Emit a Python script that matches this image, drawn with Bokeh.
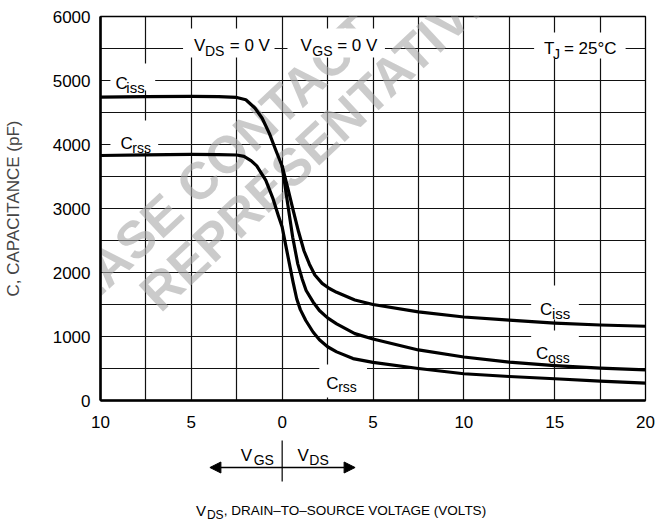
import numpy as np
from bokeh.plotting import figure
from bokeh.layouts import column
from bokeh.models import (Label, BoxAnnotation, FixedTicker, CustomJSTickFormatter,
                          Arrow, NormalHead, Range1d)
from bokeh.embed import file_html
from bokeh.resources import INLINE

# ---------------- data (V: negative = VGS side, positive = VDS side) ----------------
ciss_v = [-10, -7.5, -5, -3.5, -2.5, -2.0, -1.5, -1.1, -0.7, -0.35, 0, 0.3, 0.6, 0.9, 1.2,
          1.5, 1.8, 2.2, 2.6, 3.0, 4.0, 5.0, 7.5, 10, 12.5, 15, 17.5, 20]
ciss_c = [4740, 4748, 4752, 4748, 4735, 4700, 4570, 4410, 4170, 3910, 3660, 3330, 2980, 2640, 2340,
          2130, 1960, 1830, 1750, 1690, 1570, 1500, 1385, 1305, 1255, 1210, 1180, 1160]

crss_v = [-10, -7.5, -5, -3.5, -2.5, -2.1, -1.7, -1.4, -0.9, -0.5, -0.2, 0, 0.2, 0.4, 0.6, 0.8,
          1.0, 1.3, 1.7, 2.05, 2.5, 3.0, 3.9, 5.0, 7.5, 10, 12.5, 15, 17.5, 20]
crss_c = [3828, 3838, 3845, 3842, 3836, 3815, 3745, 3665, 3440, 3150, 2880, 2710, 2420, 2135, 1850, 1590,
          1420, 1250, 1070, 950, 840, 760, 655, 595, 500, 418, 375, 340, 302, 272]

coss_v = [0, 0.3, 0.58, 0.86, 1.1, 1.32, 1.7, 2.05, 2.5, 3.0, 4.0, 5.0, 7.5, 10, 12.5, 15, 17.5, 20]
coss_c = [3660, 3080, 2550, 2135, 1900, 1719, 1540, 1406, 1290, 1198, 1045, 960, 790, 680, 600, 545, 505, 480]

x_tick_values = [-10, -5, 0, 5, 10, 15, 20]
y_tick_values = [0, 1000, 2000, 3000, 4000, 5000, 6000]
x_grid_values = [-10, -7.5, -5, -2.5, 0, 2.5, 5, 7.5, 10, 12.5, 15, 17.5, 20]
y_grid_values = [0, 500, 1000, 1500, 2000, 2500, 3000, 3500, 4000, 4500, 5000, 5500, 6000]

FONT = "Liberation Sans"

# ---------------- main figure ----------------
p = figure(width=657, height=432, x_range=(-10, 20), y_range=(0, 6000),
           output_backend="svg", toolbar_location=None,
           min_border_left=97, min_border_right=12, min_border_top=16, min_border_bottom=32)
p.background_fill_color = "white"
p.border_fill_color = "white"
p.outline_line_color = "black"
p.outline_line_width = 1.3

p.xaxis.ticker = FixedTicker(ticks=x_tick_values)
p.yaxis.ticker = FixedTicker(ticks=y_tick_values)
p.xaxis.formatter = CustomJSTickFormatter(code="return String(Math.abs(tick))")
p.xgrid.ticker = FixedTicker(ticks=x_grid_values)
p.ygrid.ticker = FixedTicker(ticks=y_grid_values)
for g in (p.xgrid, p.ygrid):
    g.grid_line_color = "#111111"
    g.grid_line_width = 1.2

for ax in (p.xaxis, p.yaxis):
    ax.axis_line_width = 2.6
    ax.axis_line_color = "black"
    ax.major_tick_line_color = None
    ax.minor_tick_line_color = None
    ax.major_label_text_font = FONT
    ax.major_label_text_font_size = "17px"
    ax.major_label_text_color = "black"
p.xaxis.major_label_standoff = 9
p.yaxis.major_label_standoff = 4
p.yaxis.axis_label = "C, CAPACITANCE (pF)"
p.yaxis.axis_label_text_font = FONT
p.yaxis.axis_label_text_font_size = "17px"
p.yaxis.axis_label_text_font_style = "normal"
p.yaxis.axis_label_standoff = 27


def px2v(px):
    return -10 + (px - 97) / (548 / 30)


def py2c(py):
    return (400 - py) * (6000 / 384)


# ---------------- watermark ----------------
for txt, sx, sy in [("PLEASE CONTACT", 18, 345), ("REPRESENTATIVE", 145, 300)]:
    p.add_layout(Label(x=px2v(sx), y=py2c(sy), text=txt, angle=43, angle_units="deg",
                       text_font=FONT, text_font_style="bold", text_font_size="52px",
                       text_baseline="alphabetic",
                       text_color="#a8a8a8", text_alpha=0.6, level="underlay"))

# ---------------- curves ----------------
for xs, ys in [(ciss_v, ciss_c), (coss_v, coss_c), (crss_v, crss_c)]:
    p.line(xs, ys, line_color="black", line_width=3.2, line_join="round", line_cap="round")

# ---------------- white label boxes ----------------
boxes = [(180, 272, 28, 57), (285, 383, 28, 57), (533, 625, 32, 58),
         (107, 152, 63, 90), (107, 155, 120, 150),
         (530, 578, 285, 319), (530, 578, 330, 361), (317, 365, 364, 397)]
for l, r, t, b in boxes:
    p.add_layout(BoxAnnotation(left=px2v(l), right=px2v(r), top=py2c(t), bottom=py2c(b),
                               fill_color="white", fill_alpha=1.0, line_color=None))


def piece(fig, txt, x, y, size=17):
    fig.add_layout(Label(x=x, y=y, text=txt, text_font=FONT,
                         text_font_size=f"{size}px", text_baseline="alphabetic",
                         text_align="left", text_color="black"))


def mp(txt, sx, sy, size=17):
    piece(p, txt, px2v(sx), py2c(sy), size)


# V_DS = 0 V
mp("V", 191, 45); mp("DS", 202, 50, 14); mp("= 0 V", 227, 45)
# V_GS = 0 V
mp("V", 298, 45); mp("GS", 310, 50, 14); mp("= 0 V", 335, 45)
# T_J = 25°C
mp("T", 543, 48); mp("J", 552, 53, 14); mp("= 25°C", 563, 48)
# C labels
mp("C", 112, 83); mp("iss", 123, 87, 15)
mp("C", 117, 143); mp("rss", 129, 147, 14)
mp("C", 539, 309); mp("iss", 551, 313, 15)
mp("C", 535, 353); mp("oss", 547, 357, 14)
mp("C", 324, 383); mp("rss", 336, 386, 14)

# ---------------- lower strip (VGS | VDS arrow and x-axis title) ----------------
# page y from 432 to 521; the strip's y range is given in page pixels (inverted)
p2 = figure(width=657, height=89, x_range=p.x_range, y_range=Range1d(521, 432),
            output_backend="svg", toolbar_location=None, x_axis_type=None, y_axis_type=None,
            min_border_left=97, min_border_right=12, min_border_top=0, min_border_bottom=0)
p2.outline_line_color = None
p2.grid.visible = False
p2.background_fill_color = "white"
p2.border_fill_color = "white"


def lp(txt, sx, sy, size=17):
    piece(p2, txt, px2v(sx), sy, size)


lp("V", 238, 455); lp("GS", 251, 459, 14)
lp("V", 295, 455); lp("DS", 307, 459, 14)
lp("V", 193, 510, 15); lp("DS", 204, 514, 12)
lp(", DRAIN\u2013TO\u2013SOURCE VOLTAGE (VOLTS)", 221, 510, 13.5)

p2.add_layout(Arrow(start=NormalHead(size=11, fill_color="black", line_color="black"),
                    end=NormalHead(size=11, fill_color="black", line_color="black"),
                    x_start=px2v(207), y_start=467, x_end=px2v(353), y_end=467,
                    line_width=1.4, line_color="black"))
p2.add_layout(Arrow(end=None, x_start=0, y_start=440, x_end=0, y_end=481,
                    line_width=1.2, line_color="black"))

layout = column(p, p2, spacing=0)
open("out.html", "w").write(file_html(layout, INLINE))
